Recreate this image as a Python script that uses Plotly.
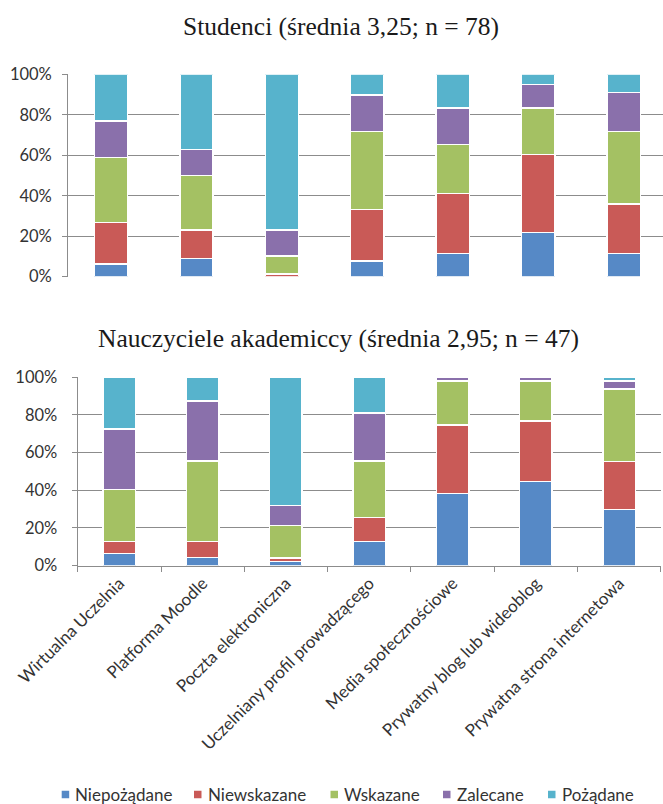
import plotly.graph_objects as go

W, H = 663, 804

categories = [
    "Wirtualna Uczelnia",
    "Platforma Moodle",
    "Poczta elektroniczna",
    "Uczelniany profil prowadzącego",
    "Media społecznościowe",
    "Prywatny blog lub wideoblog",
    "Prywatna strona internetowa",
]
series_names = ["Niepożądane", "Niewskazane", "Wskazane", "Zalecane", "Pożądane"]
series_colors = ["#5689C6", "#C95A57", "#A4C163", "#8A70AB", "#57B3CC"]

# Studenci (n = 78), percent
stud_niepozadane = [6.4, 9.0, 0.0, 7.7, 11.5, 21.8, 11.5]
stud_niewskazane = [20.5, 14.1, 1.3, 25.6, 29.5, 38.5, 24.4]
stud_wskazane = [32.1, 26.9, 9.0, 38.5, 24.4, 23.1, 35.9]
stud_zalecane = [17.9, 12.8, 12.8, 17.9, 17.9, 11.5, 19.2]
stud_pozadane = [23.1, 37.2, 76.9, 10.3, 16.7, 5.1, 9.0]

# Nauczyciele akademiccy (n = 47), percent
naucz_niepozadane = [6.4, 4.3, 2.1, 12.8, 38.3, 44.7, 29.8]
naucz_niewskazane = [6.4, 8.5, 2.1, 12.8, 36.2, 31.9, 25.5]
naucz_wskazane = [27.7, 42.6, 17.0, 29.8, 23.4, 21.3, 38.3]
naucz_zalecane = [31.9, 31.9, 10.6, 25.5, 2.1, 2.1, 4.3]
naucz_pozadane = [27.7, 12.8, 68.1, 19.1, 0.0, 0.0, 2.1]

title_top = "Studenci (średnia 3,25; n = 78)"
title_bottom = "Nauczyciele akademiccy (średnia 2,95; n = 47)"
y_tickvals = [0, 20, 40, 60, 80, 100]
y_ticktext = ["0%", "20%", "40%", "60%", "80%", "100%"]

stud = [stud_niepozadane, stud_niewskazane, stud_wskazane, stud_zalecane, stud_pozadane]
naucz = [naucz_niepozadane, naucz_niewskazane, naucz_wskazane, naucz_zalecane, naucz_pozadane]

fig = go.Figure()
for name, color, vals in zip(series_names, series_colors, stud):
    fig.add_trace(go.Bar(
        x=categories, y=vals, name=name, xaxis="x", yaxis="y",
        marker=dict(color=color, line=dict(color="white", width=1.5)),
        width=0.39, showlegend=False,
    ))
for name, color, vals in zip(series_names, series_colors, naucz):
    fig.add_trace(go.Bar(
        x=categories, y=vals, name=name, xaxis="x2", yaxis="y2",
        marker=dict(color=color, line=dict(color="white", width=1.5)),
        width=0.39, showlegend=False,
    ))

def px_x(p):
    return p / W

def px_y(p):
    return 1 - p / H

grid_col = "#8C8C8C"
tick_font = dict(family="Lato", size=16.5, color="#333333")

yaxis_common = dict(
    range=[0, 100], tickmode="array", tickvals=y_tickvals, ticktext=y_ticktext,
    showgrid=True, gridcolor=grid_col, gridwidth=1.3,
    showline=True, linecolor=grid_col, linewidth=1.3,
    ticks="outside", ticklen=5, tickcolor=grid_col, tickwidth=1.3,
    tickfont=tick_font, zeroline=False, fixedrange=True,
    automargin=False,
)

fig.update_layout(
    template="none",
    width=W, height=H,
    margin=dict(l=0, r=0, t=0, b=0, pad=0),
    paper_bgcolor="white", plot_bgcolor="white",
    barmode="stack",
    xaxis=dict(
        domain=[px_x(68.3), 1.0], range=[-0.5, 6.46],
        type="category", categoryorder="array", categoryarray=categories,
        showticklabels=False, ticks="", showgrid=False,
        showline=False, zeroline=False, anchor="y", fixedrange=True,
        automargin=False,
    ),
    yaxis=dict(domain=[px_y(276.7), px_y(74.3)], anchor="x",
               ticklabelstandoff=7, **yaxis_common),
    xaxis2=dict(
        domain=[px_x(77.7), px_x(660.9)], range=[-0.5, 6.5],
        type="category", categoryorder="array", categoryarray=categories,
        tickson="boundaries", ticks="outside", ticklen=5,
        tickcolor=grid_col, tickwidth=1.3,
        showgrid=False, showline=True, linecolor=grid_col, linewidth=1.3,
        tickangle=-45, tickfont=dict(family="Lato", size=17, color="#333333"),
        zeroline=False, anchor="y2", fixedrange=True, automargin=False,
    ),
    yaxis2=dict(domain=[px_y(565.7), px_y(377)], anchor="x2",
                ticklabelstandoff=11, **yaxis_common),
    showlegend=False,
)

title_font = dict(family="Liberation Serif", size=25.5, color="#1a1a1a")
fig.add_annotation(text=title_top, x=px_x(341), y=px_y(26), xref="paper", yref="paper",
                   xanchor="center", yanchor="middle", showarrow=False, font=title_font)
fig.add_annotation(text=title_bottom, x=px_x(338), y=px_y(339), xref="paper", yref="paper",
                   xanchor="center", yanchor="middle", showarrow=False, font=title_font)

# legend (manual, to match square markers and tight spacing)
legend_square_x = [61.7, 194.0, 330.5, 443.0, 548.0]
sq = 7.5
ly = 794.5
for name, color, sx in zip(series_names, series_colors, legend_square_x):
    fig.add_shape(type="rect", xref="paper", yref="paper",
                  x0=px_x(sx), x1=px_x(sx + sq), y0=px_y(ly + sq / 2), y1=px_y(ly - sq / 2),
                  fillcolor=color, line=dict(width=0))
    fig.add_annotation(text=name, x=px_x(sx + sq + 4), y=px_y(ly), xref="paper", yref="paper",
                       xanchor="left", yanchor="middle", showarrow=False,
                       font=dict(family="Lato", size=17, color="#333333"))

fig.write_html("out.html", config={"displayModeBar": False},
               post_script="document.body.style.margin='0';document.body.style.overflow='hidden';")
